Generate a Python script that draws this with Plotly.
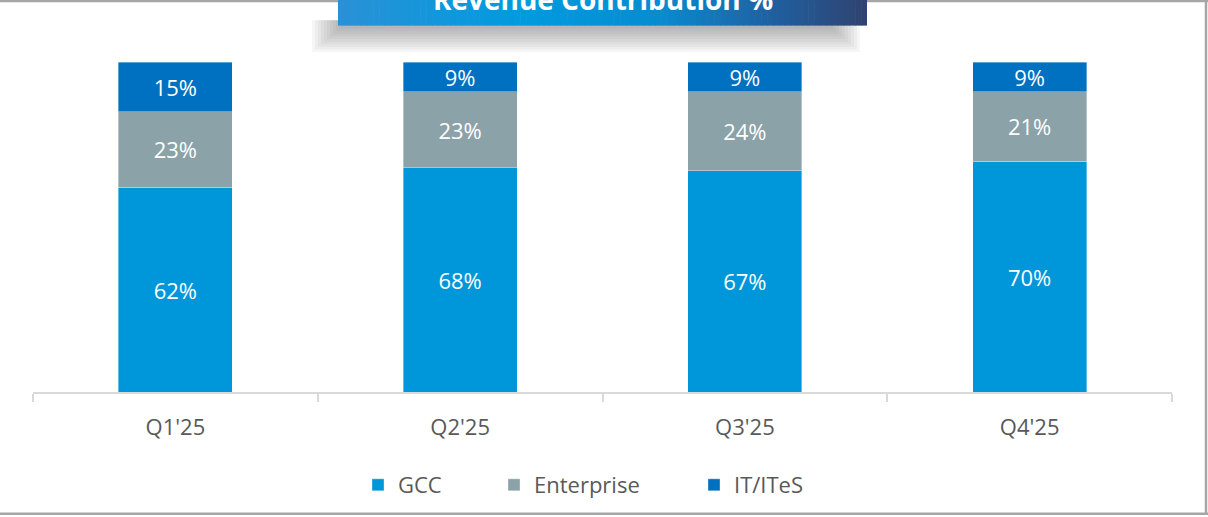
import plotly.graph_objects as go

categories = ["Q1'25", "Q2'25", "Q3'25", "Q4'25"]
gcc = [62, 68, 67, 70]
enterprise = [23, 23, 24, 21]
it_ites = [15, 9, 9, 9]
series_names = ["GCC", "Enterprise", "IT/ITeS"]
title_text = "Revenue Contribution %"

W, H = 1208, 517
ML, MR, MT, MB = 33, 36, 62, 124
PW = W - ML - MR
PH = H - MT - MB


def px(x):
    return (x - ML) / PW


def py(y):
    return (H - MB - y) / PH


colors = ["#0096DA", "#8AA2A8", "#0070C0"]
values = [gcc, enterprise, it_ites]
legends = ["legend", "legend2", "legend3"]

fig = go.Figure()
for name, vals, col, lg in zip(series_names, values, colors, legends):
    fig.add_trace(go.Bar(
        x=categories, y=vals, name=name,
        marker=dict(color=col, line=dict(color="rgba(255,255,255,0.6)", width=0.6)),
        text=[f"{v}%" for v in vals], textposition="inside",
        insidetextanchor="middle", constraintext="none",
        textfont=dict(family="Open Sans", size=22, color="white"),
        width=0.4, legend=lg, hoverinfo="skip",
    ))

shapes = []
border = dict(color="#A6A6A6", width=2.5)
# outer frame (top, right, bottom)
shapes.append(dict(type="line", xref="paper", yref="paper", x0=px(0), x1=px(W), y0=py(0.8), y1=py(0.8), line=border))
shapes.append(dict(type="line", xref="paper", yref="paper", x0=px(1206), x1=px(1206), y0=py(0), y1=py(516), line=border))
shapes.append(dict(type="line", xref="paper", yref="paper", x0=px(0), x1=px(W), y0=py(515), y1=py(515), line=border))

# title box shadow
for i in range(10):
    shapes.append(dict(type="rect", xref="paper", yref="paper", layer="above",
                       x0=px(312 + i * 3), x1=px(860 - i * 3), y0=py(20), y1=py(52 - i * 2.6),
                       fillcolor="rgba(110,110,110,0.06)", line=dict(width=0)))

# title box gradient
stops = [(0.0, (42, 145, 214)), (0.35, (0, 155, 222)), (0.6, (8, 140, 208)), (0.8, (30, 100, 165)), (1.0, (47, 66, 112))]


def grad(t):
    for (t0, c0), (t1, c1) in zip(stops[:-1], stops[1:]):
        if t0 <= t <= t1:
            f = (t - t0) / (t1 - t0)
            return "rgb(%d,%d,%d)" % tuple(round(a + (b - a) * f) for a, b in zip(c0, c1))
    return "rgb(%d,%d,%d)" % stops[-1][1]


bx0, bx1, by0, by1 = 338, 867, -5, 25.5
N = 90
for i in range(N):
    xa = bx0 + (bx1 - bx0) * i / N
    xb = bx0 + (bx1 - bx0) * (i + 1) / N + 0.6
    shapes.append(dict(type="rect", xref="paper", yref="paper", layer="above",
                       x0=px(xa), x1=px(min(xb, bx1)), y0=py(by0), y1=py(by1),
                       fillcolor=grad((i + 0.5) / N), line=dict(width=0)))

fig.update_layout(
    width=W, height=H,
    margin=dict(l=ML, r=MR, t=MT, b=MB),
    paper_bgcolor="white", plot_bgcolor="white",
    barmode="stack",
    font=dict(family="Open Sans", color="#595959"),
    shapes=shapes,
    annotations=[dict(text="<b>" + title_text + "</b>", xref="paper", yref="paper",
                      x=px(603), y=py(-1), xanchor="center", yanchor="middle",
                      showarrow=False, font=dict(family="Open Sans", size=28, color="white"))],
    xaxis=dict(showline=True, linecolor="#D9D9D9", linewidth=1.5,
               ticks="outside", tickson="boundaries", ticklen=8, tickcolor="#D9D9D9", tickwidth=1.5,
               tickfont=dict(family="Open Sans", size=22, color="#595959"),
               ticklabelstandoff=15, showgrid=False, fixedrange=True),
    yaxis=dict(visible=False, range=[0, 100], fixedrange=True),
    showlegend=True,
)
leg_common = dict(orientation="h", yanchor="middle", xanchor="left", y=py(485),
                  font=dict(family="Open Sans", size=22, color="#595959"), bgcolor="rgba(0,0,0,0)")
fig.update_layout(
    legend=dict(x=px(358), **leg_common),
    legend2=dict(x=px(494), **leg_common),
    legend3=dict(x=px(694), **leg_common),
)

fig.write_html("out.html", config={"displayModeBar": False},
               post_script="document.body.style.margin='0';")
